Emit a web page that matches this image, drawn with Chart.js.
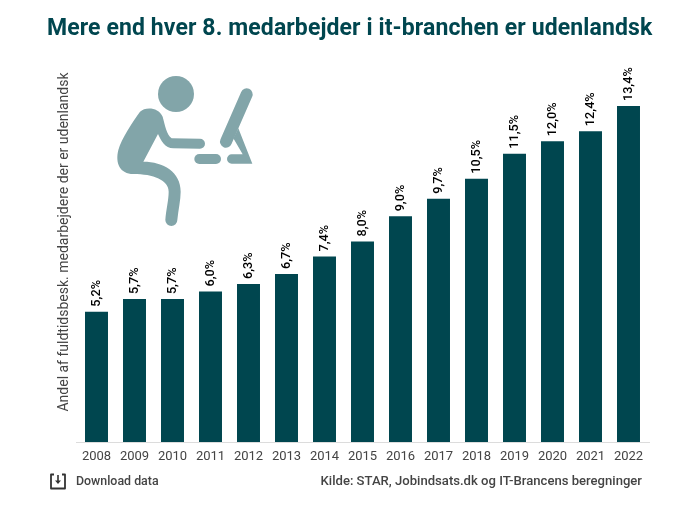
<!DOCTYPE html>
<html><head><meta charset="utf-8">
<script src="https://cdn.jsdelivr.net/npm/chart.js@4/dist/chart.umd.min.js"></script>
<style>
html,body{margin:0;padding:0;background:#fff;overflow:hidden}
#wrap{position:relative;width:700px;height:507px;font-family:Roboto,sans-serif}
canvas{position:absolute;left:0;top:0}
.t{position:absolute;white-space:nowrap}
#title{left:47px;top:13px;font-size:23px;font-weight:700;color:#00464f;letter-spacing:.11px;line-height:30px}
#dl{left:76px;top:473px;font-size:12.4px;font-weight:500;color:#444;line-height:16px}
#src{right:58px;top:473px;font-size:13.1px;font-weight:500;color:#444;line-height:16px}
svg{position:absolute}
</style></head><body>
<div id="wrap">
<canvas id="c" width="700" height="507"></canvas>
<div class="t" id="title">Mere end hver 8. medarbejder i it-branchen er udenlandsk</div>
<svg style="left:90px;top:60px" width="200" height="180" viewBox="0 0 600 540">
<g fill="#82a5a9"><circle cx="258" cy="102" r="54"/>
<path d="M150,155 C165,140 205,140 218,170 C225,195 230,225 245,235 L330,236 A15 15 0 0 1 330,266 L250,265 C225,265 212,240 204,222 L160,305 C220,305 272,335 272,395 C272,420 265,450 262,480 A18 18 0 0 1 226,480 C228,450 236,420 236,395 C236,360 190,342 130,342 C90,342 75,310 85,270 C95,235 125,190 150,155 Z"/>
<path d="M445,205 L487,311 L425,311 A14 14 0 0 1 425,283 L458,283 L430,235 Z"/></g>
<g stroke="#82a5a9" stroke-linecap="round" fill="none"><path d="M408,245 L470,103" stroke-width="36"/><path d="M328,297 L378,297" stroke-width="30"/></g>
</svg>
<svg style="left:49px;top:473px" width="18" height="17" viewBox="0 0 18 17">
<path d="M5,1.5 H2 V15.5 H16 V1.5 H13" fill="none" stroke="#333" stroke-width="1.8" stroke-linejoin="round"/>
<path d="M9,2 V9" stroke="#333" stroke-width="1.6" fill="none"/><path d="M6,7.5 L12,7.5 L9,11 Z" fill="#333"/>
</svg>
<div class="t" id="dl">Download data</div>
<div class="t" id="src">Kilde: STAR, Jobindsats.dk og IT-Brancens beregninger</div>
</div>
<script>
const years=["2008","2009","2010","2011","2012","2013","2014","2015","2016","2017","2018","2019","2020","2021","2022"];
const shares=[5.2,5.7,5.7,6.0,6.3,6.7,7.4,8.0,9.0,9.7,10.5,11.5,12.0,12.4,13.4];
const yAxisTitle="Andel af fuldtidsbesk. medarbejdere der er udenlandsk";
const barColor="#00464f";

const valueLabels={id:"valueLabels",afterDatasetsDraw(chart){
  const c=chart.ctx,meta=chart.getDatasetMeta(0),a=chart.chartArea;
  c.save();c.strokeStyle="#dcdcdc";c.lineWidth=1;c.beginPath();c.moveTo(a.left-1.5,a.bottom+.5);c.lineTo(a.right+2.5,a.bottom+.5);c.stroke();
  c.fillStyle="#000";c.font="500 12.7px Roboto";c.textAlign="left";c.textBaseline="middle";
  meta.data.forEach((b,i)=>{
    c.save();c.translate(b.x,b.y-5);c.rotate(-Math.PI/2);
    c.fillText(shares[i].toFixed(1).replace(".",",")+"%",0,0);c.restore();
  });
  c.restore();
}};
new Chart(document.getElementById("c"),{
  type:"bar",
  data:{labels:years,datasets:[{data:shares,backgroundColor:barColor,categoryPercentage:1,barPercentage:0.605}]},
  plugins:[valueLabels],
  options:{responsive:false,animation:false,
    devicePixelRatio:1,
    layout:{padding:{left:0,right:52.5,top:42,bottom:0}},
    plugins:{legend:{display:false},tooltip:{enabled:false},title:{display:false}},
    scales:{
      x:{grid:{display:false,drawTicks:false},border:{display:false},
         ticks:{color:"#444",font:{family:"Roboto",size:13},maxRotation:0,autoSkip:false,padding:7},
         afterFit(a){a.height=65}},
      y:{min:0,max:15.955,display:true,grid:{display:false,drawTicks:false},border:{display:false},
         ticks:{display:false},
         title:{display:true,text:yAxisTitle,color:"#444",font:{family:"Roboto",size:14},padding:{top:56,bottom:0}},
         afterFit(a){a.width=77.5}}
    }
  }
});
</script>
</body></html>
